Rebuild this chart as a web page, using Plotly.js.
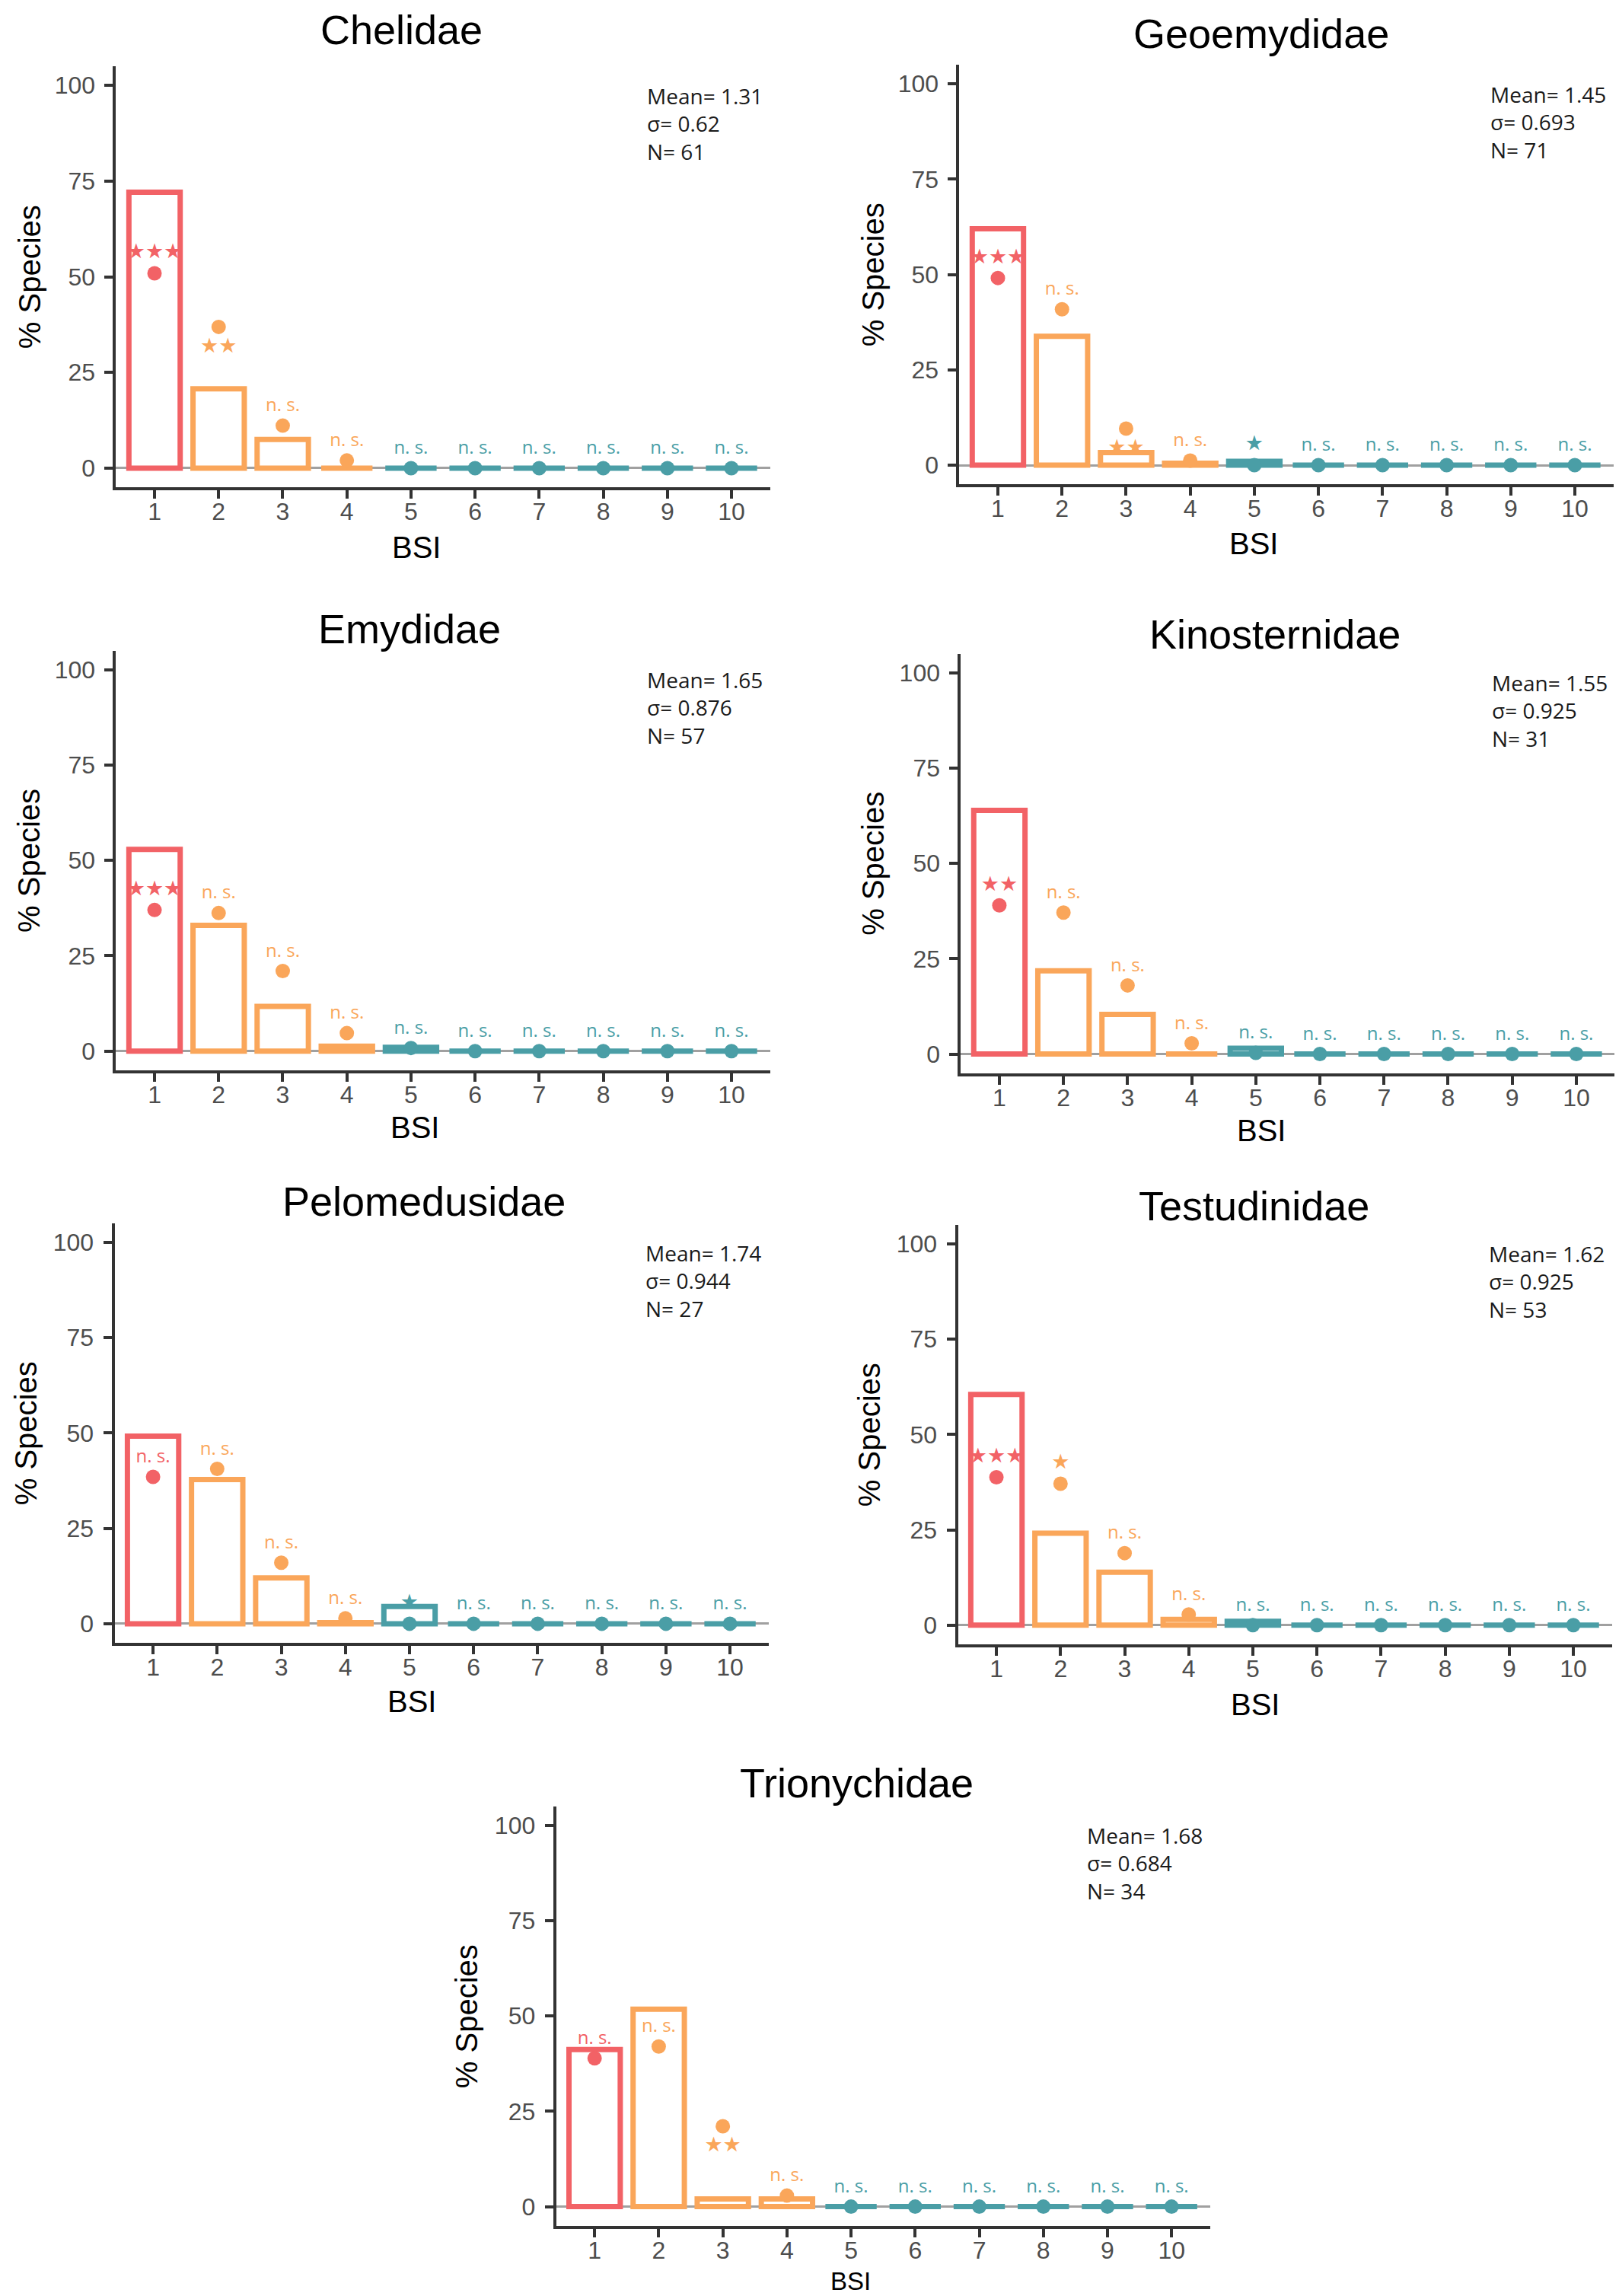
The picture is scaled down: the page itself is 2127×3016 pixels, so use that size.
<!DOCTYPE html>
<html>
<head>
<meta charset="utf-8">
<script src="https://cdn.plot.ly/plotly-3.0.1.min.js"></script>
<style>html,body{margin:0;padding:0;background:#ffffff;}</style>
</head>
<body>
<div id="chart" style="width:2127px;height:3016px;"></div>
<script>
// ---------------- data ----------------
const bsi = [1, 2, 3, 4, 5, 6, 7, 8, 9, 10];
const bsiLabels = ["1", "2", "3", "4", "5", "6", "7", "8", "9", "10"];
const yTicks = [0, 25, 50, 75, 100];

const families = ["Chelidae", "Geoemydidae", "Emydidae", "Kinosternidae", "Pelomedusidae", "Testudinidae", "Trionychidae"];
const means  = ["1.31", "1.45", "1.65", "1.55", "1.74", "1.62", "1.68"];
const sigmas = ["0.62", "0.693", "0.876", "0.925", "0.944", "0.925", "0.684"];
const counts = [61, 71, 57, 31, 27, 53, 34];

// observed % species per BSI (bars)
const cheBars = [72.1, 20.7, 7.5, 0, 0, 0, 0, 0, 0, 0];
const geoBars = [62.0, 33.8, 3.3, 0.5, 1.0, 0, 0, 0, 0, 0];
const emyBars = [52.9, 33.0, 11.7, 1.3, 1.0, 0, 0, 0, 0, 0];
const kinBars = [63.9, 21.8, 10.4, 0, 1.5, 0, 0, 0, 0, 0];
const pelBars = [49.2, 37.8, 12.0, 0.3, 4.5, 0, 0, 0, 0, 0];
const tesBars = [60.5, 24.1, 13.9, 1.5, 1.0, 0, 0, 0, 0, 0];
const triBars = [41.2, 51.8, 2.0, 2.0, 0, 0, 0, 0, 0, 0];

// reference values per BSI (dots)
const cheDots = [50.9, 36.9, 11.1, 2.0, 0, 0, 0, 0, 0, 0];
const geoDots = [49.1, 40.9, 9.6, 1.2, 0, 0, 0, 0, 0, 0];
const emyDots = [37.0, 36.2, 21.0, 4.7, 0.8, 0, 0, 0, 0, 0];
const kinDots = [39.0, 37.1, 18.0, 2.8, 0.3, 0, 0, 0, 0, 0];
const pelDots = [38.5, 40.6, 16.0, 1.4, 0, 0, 0, 0, 0, 0];
const tesDots = [38.8, 37.1, 18.9, 2.8, 0, 0, 0, 0, 0, 0];
const triDots = [38.9, 42.0, 21.1, 2.9, 0, 0, 0, 0, 0, 0];

// significance labels per BSI
const NS = "n. s.";
const cheSig = ["★★★", "★★", NS, NS, NS, NS, NS, NS, NS, NS];
const geoSig = ["★★★", NS, "★★", NS, "★", NS, NS, NS, NS, NS];
const emySig = ["★★★", NS, NS, NS, NS, NS, NS, NS, NS, NS];
const kinSig = ["★★", NS, NS, NS, NS, NS, NS, NS, NS, NS];
const pelSig = [NS, NS, NS, NS, "★", NS, NS, NS, NS, NS];
const tesSig = ["★★★", "★", NS, NS, NS, NS, NS, NS, NS, NS];
const triSig = [NS, NS, "★★", NS, NS, NS, NS, NS, NS, NS];

// BSI values whose label sits below the dot
const cheBelow = [2];
const geoBelow = [3];
const emyBelow = [];
const kinBelow = [];
const pelBelow = [];
const tesBelow = [];
const triBelow = [3];

const allBars = [cheBars, geoBars, emyBars, kinBars, pelBars, tesBars, triBars];
const allDots = [cheDots, geoDots, emyDots, kinDots, pelDots, tesDots, triDots];
const allSig = [cheSig, geoSig, emySig, kinSig, pelSig, tesSig, triSig];
const allBelow = [cheBelow, geoBelow, emyBelow, kinBelow, pelBelow, tesBelow, triBelow];

// ---------------- layout geometry (reference px at 1100-wide scale) ----------------
const REF_W = 1100, REF_H = 1559.7;
const geom = [
  {x1: 105, x10: 497, y100: 58,   y0: 318,  tx: 273, ty: 20,   yl: 20,  bx: 283, by: 372, bs: 40},
  {x1: 678, x10: 1070, y100: 57,  y0: 316,  tx: 857, ty: 23,   yl: 593, bx: 852, by: 369, bs: 40},
  {x1: 105, x10: 497, y100: 455,  y0: 714,  tx: 278, ty: 427,  yl: 20,  bx: 282, by: 766, bs: 40},
  {x1: 679, x10: 1071, y100: 457, y0: 716,  tx: 866, ty: 431,  yl: 593, bx: 857, by: 768, bs: 40},
  {x1: 104, x10: 496, y100: 844,  y0: 1103, tx: 288, ty: 816,  yl: 18,  bx: 280, by: 1156, bs: 40},
  {x1: 677, x10: 1069, y100: 845, y0: 1104, tx: 852, ty: 819,  yl: 591, bx: 853, by: 1158, bs: 40},
  {x1: 404, x10: 796, y100: 1240, y0: 1499, tx: 582, ty: 1211, yl: 317, bx: 578, by: 1549.5, bs: 33}
];
const PX = p => p / REF_W;
const PY = p => 1 - p / REF_H;

const RED = "#F26266", ORANGE = "#FAA65A", TEAL = "#4A9EA6";
const colorOf = b => (b === 1 ? RED : (b <= 4 ? ORANGE : TEAL));
const colors = bsi.map(colorOf);

const AXIS_COLOR = "#333333";
const TICK_FONT = {family: "Liberation Sans, Arial, sans-serif", size: 32, color: "#4D4D4D"};
const TITLE_FONT = {family: "Liberation Sans, Arial, sans-serif", size: 54, color: "#000000"};
const STAT_FONT = {family: "Open Sans, Liberation Sans, sans-serif", size: 28, color: "#1a1a1a"};

const traces = [];
const layout = {
  width: 2127, height: 3016,
  margin: {l: 0, r: 0, t: 0, b: 0},
  paper_bgcolor: "#ffffff", plot_bgcolor: "rgba(0,0,0,0)",
  showlegend: false,
  annotations: []
};

families.forEach((fam, i) => {
  const g = geom[i];
  const sp = (g.x10 - g.x1) / 9;
  const u = (g.y0 - g.y100) / 100;
  const left = g.x1 - 0.6 * sp, right = g.x10 + 0.6 * sp;
  const top = g.y100 - 5 * u, bottom = g.y0 + 5 * u;
  const n = i + 1;
  const xk = n === 1 ? "x" : "x" + n;
  const yk = n === 1 ? "y" : "y" + n;
  const xl = n === 1 ? "xaxis" : "xaxis" + n;
  const yl = n === 1 ? "yaxis" : "yaxis" + n;

  layout[xl] = {
    domain: [PX(left), PX(right)], anchor: yk, range: [0.4, 10.6],
    tickmode: "array", tickvals: bsi, ticktext: bsiLabels,
    showline: true, linecolor: AXIS_COLOR, linewidth: 4,
    ticks: "outside", ticklen: 11, tickwidth: 4, tickcolor: AXIS_COLOR,
    tickfont: TICK_FONT, showgrid: false, zeroline: false, fixedrange: true,
    ticklabelstandoff: -10
  };
  layout[yl] = {
    domain: [PY(bottom), PY(top)], anchor: xk, range: [-5, 105],
    tickmode: "array", tickvals: yTicks, ticktext: yTicks.map(String),
    showline: true, linecolor: AXIS_COLOR, linewidth: 4,
    ticks: "outside", ticklen: 11, tickwidth: 4, tickcolor: AXIS_COLOR,
    tickfont: TICK_FONT, showgrid: false,
    zeroline: true, zerolinecolor: "#a0a0a0", zerolinewidth: 3, fixedrange: true,
    ticklabelstandoff: 6
  };

  const bars = allBars[i], dots = allDots[i], sig = allSig[i], below = allBelow[i];

  traces.push({
    type: "bar", x: bsi, y: bars, xaxis: xk, yaxis: yk, width: 0.8,
    marker: {color: "rgba(255,255,255,0)", line: {color: colors, width: 7}},
    hoverinfo: "skip", cliponaxis: false
  });
  traces.push({
    type: "scatter", mode: "markers+text", x: bsi, y: dots, xaxis: xk, yaxis: yk,
    marker: {size: 19, color: colors, line: {width: 0}},
    text: sig,
    textposition: bsi.map(b => below.includes(b) ? "bottom center" : "top center"),
    textfont: {
      family: "Open Sans, DejaVu Sans, sans-serif",
      size: sig.map(s => s === NS ? 24 : 27),
      color: colors
    },
    hoverinfo: "skip", cliponaxis: false
  });

  // panel title
  layout.annotations.push({
    xref: "paper", yref: "paper", x: PX(g.tx), y: PY(g.ty),
    xanchor: "center", yanchor: "middle", showarrow: false,
    text: fam, font: TITLE_FONT
  });
  // y-axis title
  layout.annotations.push({
    xref: "paper", yref: "paper", x: PX(g.yl), y: PY((g.y0 + g.y100) / 2),
    xanchor: "center", yanchor: "middle", showarrow: false, textangle: -90,
    text: "% Species", font: {family: "Liberation Sans, Arial, sans-serif", size: 40, color: "#000000"}
  });
  // x-axis title
  layout.annotations.push({
    xref: "paper", yref: "paper", x: PX(g.bx), y: PY(g.by),
    xanchor: "center", yanchor: "middle", showarrow: false, borderpad: 0,
    text: "BSI", font: {family: "Liberation Sans, Arial, sans-serif", size: g.bs, color: "#000000"}
  });
  // stats
  layout.annotations.push({
    xref: xk, yref: yk, x: 8.66, y: 101.5,
    xanchor: "left", yanchor: "top", align: "left", showarrow: false,
    text: "Mean= " + means[i] + "<br>σ= " + sigmas[i] + "<br>N= " + counts[i],
    font: STAT_FONT
  });
});

Plotly.newPlot("chart", traces, layout, {displayModeBar: false, staticPlot: true});
</script>
</body>
</html>
